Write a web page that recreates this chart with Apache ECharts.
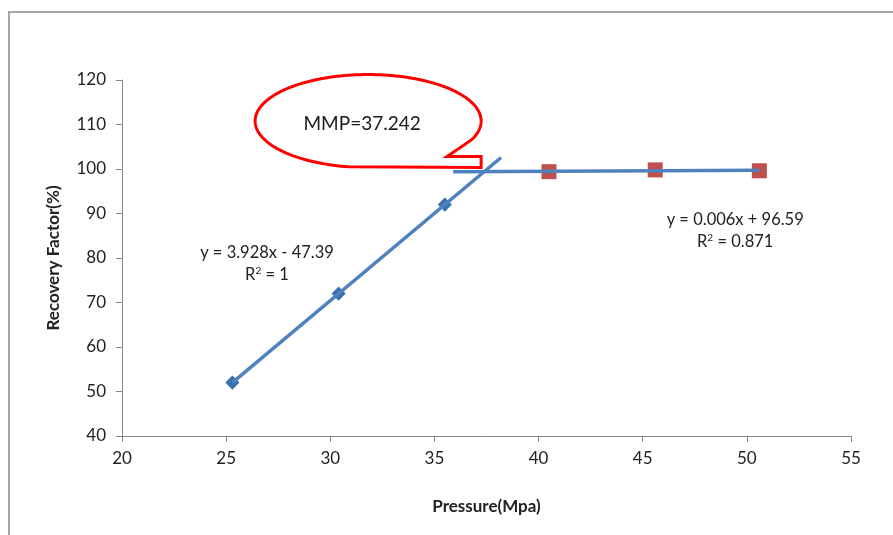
<!DOCTYPE html>
<html>
<head>
<meta charset="utf-8">
<script src="https://cdn.jsdelivr.net/npm/echarts@6/dist/echarts.min.js"></script>
<style>
  html, body { margin: 0; padding: 0; background: #fff; }
  #chart { width: 893px; height: 535px; }
</style>
</head>
<body>
<div id="chart"></div>
<script>
// Measured pressure (MPa) and recovery factor (%) before and after miscibility
const pressureLow = [25.3, 30.4, 35.5];
const recoveryLow = [52, 72, 92];
const pressureHigh = [40.5, 45.6, 50.6];
const recoveryHigh = [99.4, 99.8, 99.6];

// Trendline equations as reported on the plot
const eqLow = ['y = 3.928x - 47.39', '1'];
const eqHigh = ['y = 0.006x + 96.59', '0.871'];
const mmpValue = 37.242;

// Trendline extensions (forecast forward / backward, MPa)
const lowForward = 2.7;
const highBackward = 4.6;

// Axis ticks
const xTicks = { min: 20, max: 55, interval: 5 };
const yTicks = { min: 40, max: 120, interval: 10 };

const FONT = 'Lato';
const TEXT = '#222222';

function fit(xs, ys) {
  const n = xs.length;
  const mx = xs.reduce((a, b) => a + b, 0) / n;
  const my = ys.reduce((a, b) => a + b, 0) / n;
  let sxy = 0, sxx = 0;
  for (let i = 0; i < n; i++) {
    sxy += (xs[i] - mx) * (ys[i] - my);
    sxx += (xs[i] - mx) * (xs[i] - mx);
  }
  const k = sxy / sxx;
  return { k: k, b: my - k * mx };
}

const fLow = fit(pressureLow, recoveryLow);
const fHigh = fit(pressureHigh, recoveryHigh);
const lowX0 = pressureLow[0];
const lowX1 = pressureLow[pressureLow.length - 1] + lowForward;
const highX0 = pressureHigh[0] - highBackward;
const highX1 = pressureHigh[pressureHigh.length - 1];
const lowTrend = [[lowX0, fLow.k * lowX0 + fLow.b], [lowX1, fLow.k * lowX1 + fLow.b]];
const highTrend = [[highX0, fHigh.k * highX0 + fHigh.b], [highX1, fHigh.k * highX1 + fHigh.b]];

const chart = echarts.init(document.getElementById('chart'), null, { renderer: 'canvas' });

const axisLine = { lineStyle: { color: '#868686', width: 1 } };

chart.setOption({
  animation: false,
  backgroundColor: '#ffffff',
  grid: { left: 122, right: 42, top: 80, bottom: 99 },
  xAxis: {
    type: 'value',
    min: xTicks.min, max: xTicks.max, interval: xTicks.interval,
    name: 'Pressure(Mpa)',
    nameLocation: 'middle',
    nameGap: 62,
    nameTextStyle: { fontFamily: FONT, fontSize: 17, fontWeight: 'bold', color: TEXT },
    axisLine: axisLine,
    axisTick: { show: true, length: 6, lineStyle: { color: '#868686' } },
    axisLabel: { fontFamily: FONT, fontSize: 17, color: TEXT, margin: 14 },
    splitLine: { show: false }
  },
  yAxis: {
    type: 'value',
    min: yTicks.min, max: yTicks.max, interval: yTicks.interval,
    name: 'Recovery Factor(%)',
    nameLocation: 'middle',
    nameGap: 60,
    nameTextStyle: { fontFamily: FONT, fontSize: 17, fontWeight: 'bold', color: TEXT },
    axisLine: Object.assign({ show: true }, axisLine),
    axisTick: { show: true, length: 6, lineStyle: { color: '#868686' } },
    axisLabel: { fontFamily: FONT, fontSize: 17, color: TEXT, margin: 16 },
    splitLine: { show: false }
  },
  series: [
    {
      name: 'low',
      type: 'scatter',
      data: pressureLow.map((x, i) => [x, recoveryLow[i]]),
      symbol: 'rect',
      symbolRotate: 45,
      symbolSize: 10,
      itemStyle: { color: '#3c6fae', opacity: 1 },
      z: 2
    },
    {
      name: 'high',
      type: 'scatter',
      data: pressureHigh.map((x, i) => [x, recoveryHigh[i]]),
      symbol: 'rect',
      symbolSize: 15,
      itemStyle: { color: '#c0504d', opacity: 1 },
      z: 2
    },
    {
      name: 'lowTrend',
      type: 'line',
      data: lowTrend,
      showSymbol: false,
      lineStyle: { color: '#4f81bd', width: 3.5 },
      z: 3
    },
    {
      name: 'highTrend',
      type: 'line',
      data: highTrend,
      showSymbol: false,
      lineStyle: { color: '#4f81bd', width: 3.5 },
      z: 3
    }
  ]
});

// Annotations: frame, trendline equations and the MMP callout
function px(x, y) { return chart.convertToPixel({ gridIndex: 0 }, [x, y]); }

const tip = px(mmpValue, fHigh.k * mmpValue + fHigh.b);
const tipX = tip[0], tipY = tip[1] - 4;
const cx = tipX - 113, cy = tipY - 46.5, rx = 113, ry = 46.5;
const pts = [];
for (let a = 100; a <= 385; a += 2) {
  const t = a * Math.PI / 180;
  pts.push([cx + rx * Math.cos(t), cy + ry * Math.sin(t)]);
}
pts.push([tipX - 34, tipY - 11]);
pts.push([tipX, tipY - 11]);
pts.push([tipX, tipY]);

const eqStyle = {
  fontFamily: FONT, fontSize: 16.5, fill: TEXT, align: 'center', verticalAlign: 'middle'
};
function eqText(lines, x, y) {
  const p1 = px(x, y);
  return [
    { type: 'text', x: p1[0], y: p1[1], style: Object.assign({ text: lines[0] }, eqStyle), z: 10 },
    {
      type: 'text', x: p1[0], y: p1[1] + 22,
      style: Object.assign({
        text: 'R{sup|2} = ' + lines[1],
        rich: { sup: { fontFamily: FONT, fontSize: 10, fill: TEXT, verticalAlign: 'top', padding: [0, 0, 7, 0] } }
      }, eqStyle),
      z: 10
    }
  ];
}

chart.setOption({
  graphic: [
    { type: 'polyline', shape: { points: [[9, 535], [9, 12], [893, 12]] }, style: { stroke: '#a6a6a6', lineWidth: 2, fill: null }, z: 1 },
    { type: 'polygon', shape: { points: pts }, style: { stroke: '#ff0000', lineWidth: 3, fill: '#ffffff' }, z: 20 },
    { type: 'text', x: cx - 6, y: cy + 3, style: { text: 'MMP=' + mmpValue, fontFamily: FONT, fontSize: 19, fill: '#1a1a1a', align: 'center', verticalAlign: 'middle' }, z: 21 }
  ].concat(eqText(eqLow, 26.96, 81.2), eqText(eqHigh, 49.44, 88.6))
});
</script>
</body>
</html>
